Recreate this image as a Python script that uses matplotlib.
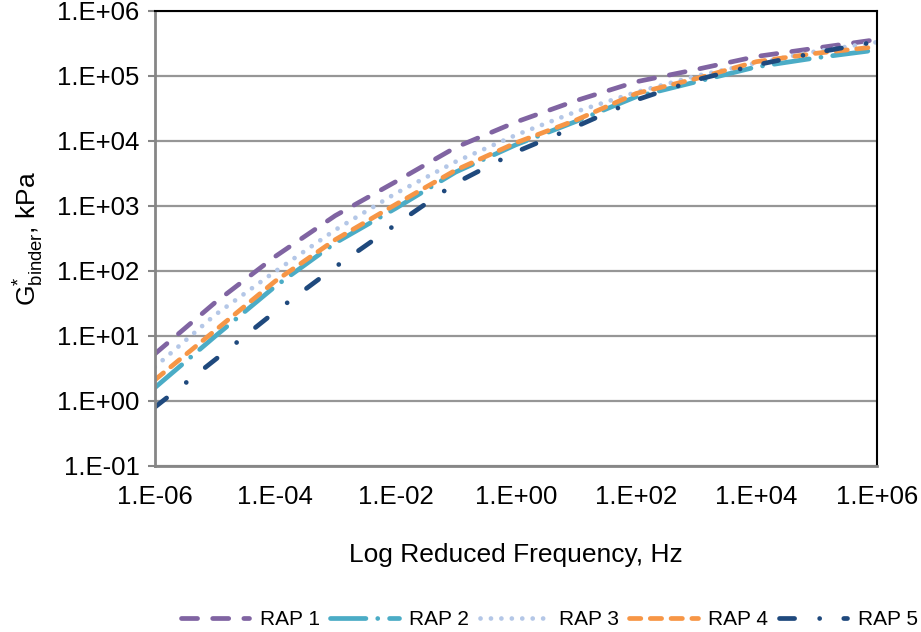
import matplotlib
matplotlib.use("Agg")
import matplotlib.pyplot as plt
import numpy as np

plt.rcParams['font.family'] = ['Liberation Sans', 'DejaVu Sans']
plt.rcParams['mathtext.fontset'] = 'custom'
plt.rcParams['mathtext.rm'] = 'Liberation Sans'
plt.rcParams['mathtext.it'] = 'Liberation Sans'

log_freq = [-6, -5, -4, -3, -2, -1, 0, 1, 2, 3, 4, 5, 6]
rap1 = [0.72, 1.51, 2.22, 2.85, 3.37, 3.90, 4.29, 4.62, 4.91, 5.10, 5.30, 5.43, 5.56]
rap2 = [0.20, 0.99, 1.76, 2.43, 2.96, 3.52, 3.94, 4.30, 4.68, 4.91, 5.14, 5.28, 5.40]
rap3 = [0.52, 1.32, 1.99, 2.63, 3.19, 3.68, 4.09, 4.45, 4.75, 5.00, 5.20, 5.38, 5.52]
rap4 = [0.32, 1.08, 1.84, 2.48, 3.02, 3.55, 3.97, 4.32, 4.73, 4.96, 5.22, 5.35, 5.45]
rap5 = [-0.10, 0.63, 1.37, 2.06, 2.71, 3.35, 3.83, 4.22, 4.63, 4.94, 5.17, 5.36, 5.53]
labels = ['RAP 1', 'RAP 2', 'RAP 3', 'RAP 4', 'RAP 5']
series = [rap1, rap2, rap3, rap4, rap5]
colors = ['#8064A2', '#4BACC6', '#B4C7E7', '#F79646', '#1F497D']
dashes = [(3.4, 3.2), (7.5, 2.5, 0.01, 2.5), (0.01, 2.2), (2.4, 2.0), (3.2, 5.3, 0.01, 5.1)]

fig = plt.figure(figsize=(9.21, 6.32), dpi=100)
ax = fig.add_axes([0.168, 0.263, 0.784, 0.7196])

freq = 10.0 ** np.array(log_freq)
for lab, s, c, d in zip(labels, series, colors, dashes):
    ax.plot(freq, 10.0 ** np.array(s), color=c, lw=3.4, label=lab,
            dashes=d, dash_capstyle='round', solid_capstyle='round')

ax.set_xscale('log')
ax.set_yscale('log')
ax.set_xlim(1e-6, 1e6)
ax.set_ylim(1e-1, 1e6)
xt = [1e-6, 1e-4, 1e-2, 1e0, 1e2, 1e4, 1e6]
yt = [1e-1, 1e0, 1e1, 1e2, 1e3, 1e4, 1e5, 1e6]
xtl = ['1.E-06', '1.E-04', '1.E-02', '1.E+00', '1.E+02', '1.E+04', '1.E+06']
ytl = ['1.E-01', '1.E+00', '1.E+01', '1.E+02', '1.E+03', '1.E+04', '1.E+05', '1.E+06']
ax.set_xticks(xt)
ax.set_xticklabels(xtl)
ax.set_yticks(yt)
ax.set_yticklabels(ytl)
ax.minorticks_off()
ax.tick_params(axis='x', length=0, pad=14, labelsize=18.5)
ax.tick_params(axis='y', length=5, width=1.5, color='#868686', pad=6, labelsize=18.5)
ax.grid(axis='y', color='#969696', lw=1.6)
ax.set_axisbelow(True)
for sp in ['left', 'bottom']:
    ax.spines[sp].set_color('#868686')
    ax.spines[sp].set_linewidth(2)
for sp in ['top', 'right']:
    ax.spines[sp].set_color('#000000')
    ax.spines[sp].set_linewidth(1.5)

ax.set_xlabel('Log Reduced Frequency, Hz', fontsize=19, labelpad=24)
ax.set_ylabel(r'G$^{*}_{\mathregular{binder}}$, kPa', fontsize=19, labelpad=8)

fig.legend(loc='lower right', bbox_to_anchor=(1.0, 0.0), ncol=5, frameon=False,
           fontsize=15, handlelength=3.3, handletextpad=0.5, columnspacing=0.5,
           borderaxespad=0.0, borderpad=0.15)

fig.savefig('out.png', dpi=100)
